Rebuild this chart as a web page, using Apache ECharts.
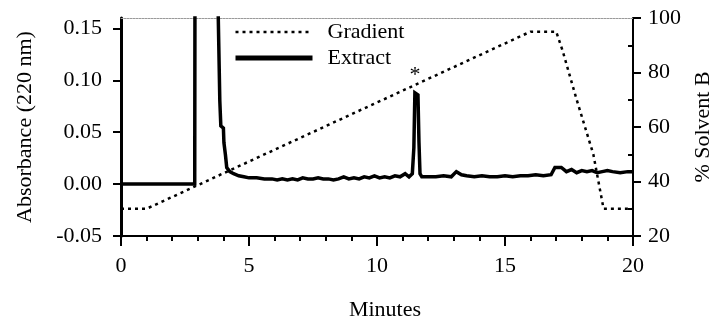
<!DOCTYPE html>
<html>
<head>
<meta charset="utf-8">
<script src="https://cdn.jsdelivr.net/npm/echarts@6/dist/echarts.min.js"></script>
<style>html,body{margin:0;padding:0;background:#fff}#c{width:712px;height:320px}</style>
</head>
<body>
<div id="c"></div>
<script>
// ---- data ----
const extractMinutes = [0, 2.88, 2.90, 3.76, 3.80, 3.86, 3.90, 4.00, 4.02, 4.08, 4.13, 4.25, 4.40, 4.60, 4.80,
  5.00, 5.30, 5.60, 5.90, 6.10, 6.30, 6.50, 6.70, 6.90, 7.10, 7.30, 7.50, 7.70, 7.90, 8.10, 8.30, 8.50, 8.70, 8.90,
  9.10, 9.30, 9.50, 9.70, 9.90, 10.10, 10.30, 10.50, 10.70, 10.90, 11.10, 11.25, 11.38, 11.44, 11.48, 11.60, 11.64,
  11.68, 11.75, 12.00, 12.30, 12.60, 12.90, 13.10, 13.30, 13.50, 13.80, 14.10, 14.40, 14.70, 15.00, 15.30, 15.60,
  15.90, 16.20, 16.50, 16.80, 16.95, 17.20, 17.40, 17.60, 17.80, 18.00, 18.20, 18.40, 18.60, 18.80, 19.00, 19.20,
  19.50, 19.80, 20.00];
const extractAbs = [0.000, 0.000, 0.400, 0.400, 0.160, 0.080, 0.056, 0.054, 0.040, 0.028, 0.016, 0.012, 0.010, 0.008, 0.007,
  0.006, 0.006, 0.005, 0.005, 0.004, 0.005, 0.004, 0.005, 0.004, 0.006, 0.005, 0.005, 0.006, 0.005, 0.005, 0.004, 0.005, 0.007, 0.005,
  0.006, 0.005, 0.007, 0.006, 0.008, 0.006, 0.007, 0.006, 0.008, 0.007, 0.010, 0.007, 0.010, 0.035, 0.088, 0.086, 0.040,
  0.010, 0.007, 0.007, 0.007, 0.008, 0.007, 0.012, 0.009, 0.008, 0.007, 0.008, 0.007, 0.007, 0.008, 0.007, 0.008,
  0.008, 0.009, 0.008, 0.009, 0.016, 0.016, 0.012, 0.014, 0.011, 0.013, 0.012, 0.013, 0.011, 0.012, 0.013, 0.012,
  0.011, 0.012, 0.012];
const gradientMinutes = [0, 1, 16, 17, 17.25, 17.8, 18.45, 18.65, 18.85, 20];
const gradientPct = [30, 30, 95, 95, 88, 70, 50, 40, 30, 30];
const absTicks = [-0.05, 0, 0.05, 0.10, 0.15];
const solventMinorTicks = [30, 50, 70, 90];
const peakMarker = '*';

// ---- build ----
const extractData = extractMinutes.map((m, i) => [m, extractAbs[i]]);
const gradientData = gradientMinutes.map((m, i) => [m, gradientPct[i]]);
// locate the marked peak (largest value after 10 min)
let pk = -1;
extractMinutes.forEach((m, i) => { if (m > 10 && (pk < 0 || extractAbs[i] > extractAbs[pk])) pk = i; });

const FONT = 'Liberation Serif';
const txt = { fontFamily: FONT, fontSize: 22, color: '#000' };

const chart = echarts.init(document.getElementById('c'), null, { renderer: 'canvas' });
chart.setOption({
  animation: false,
  backgroundColor: '#fff',
  grid: { left: 121, right: 79, top: 18, bottom: 84, containLabel: false, outerBoundsMode: 'none' },
  legend: {
    orient: 'vertical', left: 228, top: 16, itemWidth: 77, itemHeight: 14, itemGap: 4,
    itemStyle: { opacity: 0, color: 'rgba(0,0,0,0)', borderWidth: 0 },
    textStyle: Object.assign({}, txt, { padding: [0, 0, 0, 10] }),
    data: [
      { name: 'Gradient', lineStyle: { color: '#000', width: 2.5, type: [3, 4] } },
      { name: 'Extract', lineStyle: { color: '#000', width: 5 } }
    ],
    selectedMode: false
  },
  xAxis: [{
    type: 'value', min: 0, max: 20, interval: 5,
    name: 'Minutes', nameLocation: 'middle', nameGap: 63,
    nameTextStyle: Object.assign({}, txt, { padding: [0, 0, 0, 16] }),
    axisLine: { onZero: false, lineStyle: { color: '#000', width: 2 } },
    axisTick: { length: 10, lineStyle: { color: '#000', width: 2 } },
    minorTick: { show: true, splitNumber: 5, length: 5, lineStyle: { color: '#000', width: 2 } },
    axisLabel: Object.assign({}, txt, { margin: 19 }),
    splitLine: { show: false }
  }, {
    type: 'value', min: 0, max: 20, position: 'top',
    axisLine: { onZero: false, lineStyle: { color: '#9a9a9a', width: 1, type: [2, 1] } },
    axisTick: { show: false }, axisLabel: { show: false }, splitLine: { show: false }
  }],
  yAxis: [{
    type: 'value', min: -0.05, max: 0.16, interval: 0.05, position: 'left',
    name: 'Absorbance (220 nm)', nameLocation: 'middle', nameGap: 85, nameRotate: 90,
    nameTextStyle: txt,
    axisLine: { onZero: false, lineStyle: { color: '#000', width: 3 } },
    axisTick: { length: 8, customValues: absTicks, lineStyle: { color: '#000', width: 2 } },
    axisLabel: Object.assign({}, txt, { margin: 19, customValues: absTicks, formatter: v => v.toFixed(2) }),
    splitLine: { show: false }
  }, {
    type: 'value', min: 20, max: 100, interval: 20, position: 'right',
    name: '% Solvent B', nameLocation: 'middle', nameGap: 46, nameRotate: 90,
    nameTextStyle: txt,
    axisLine: { onZero: false, lineStyle: { color: '#000', width: 2 } },
    axisTick: { length: 8, lineStyle: { color: '#000', width: 2 } },
    axisLabel: Object.assign({}, txt, { margin: 15 }),
    splitLine: { show: false }
  }, {
    type: 'value', min: 20, max: 100, interval: 10, position: 'right',
    axisLine: { show: false, onZero: false },
    axisTick: { show: true, inside: true, length: 5, customValues: solventMinorTicks, lineStyle: { color: '#000', width: 2 } },
    axisLabel: { show: false }, splitLine: { show: false }
  }],
  series: [{
    name: 'Gradient', type: 'line', yAxisIndex: 1, data: gradientData,
    symbol: 'none', clip: true,
    lineStyle: { color: '#000', width: 2.5, type: [3, 4], cap: 'butt' },
    itemStyle: { color: '#000' }, z: 2
  }, {
    name: 'Extract', type: 'line', yAxisIndex: 0, data: extractData,
    symbol: 'none', clip: true,
    lineStyle: { color: '#000', width: 3.5, join: 'miter' },
    itemStyle: { color: '#000' }, z: 3,
    markPoint: {
      symbol: 'circle', symbolSize: 1, itemStyle: { color: 'rgba(0,0,0,0)' },
      label: Object.assign({}, txt, { show: true, position: 'top', distance: 6, formatter: peakMarker }),
      data: [{ coord: extractData[pk] }]
    }
  }]
});
</script>
</body>
</html>
